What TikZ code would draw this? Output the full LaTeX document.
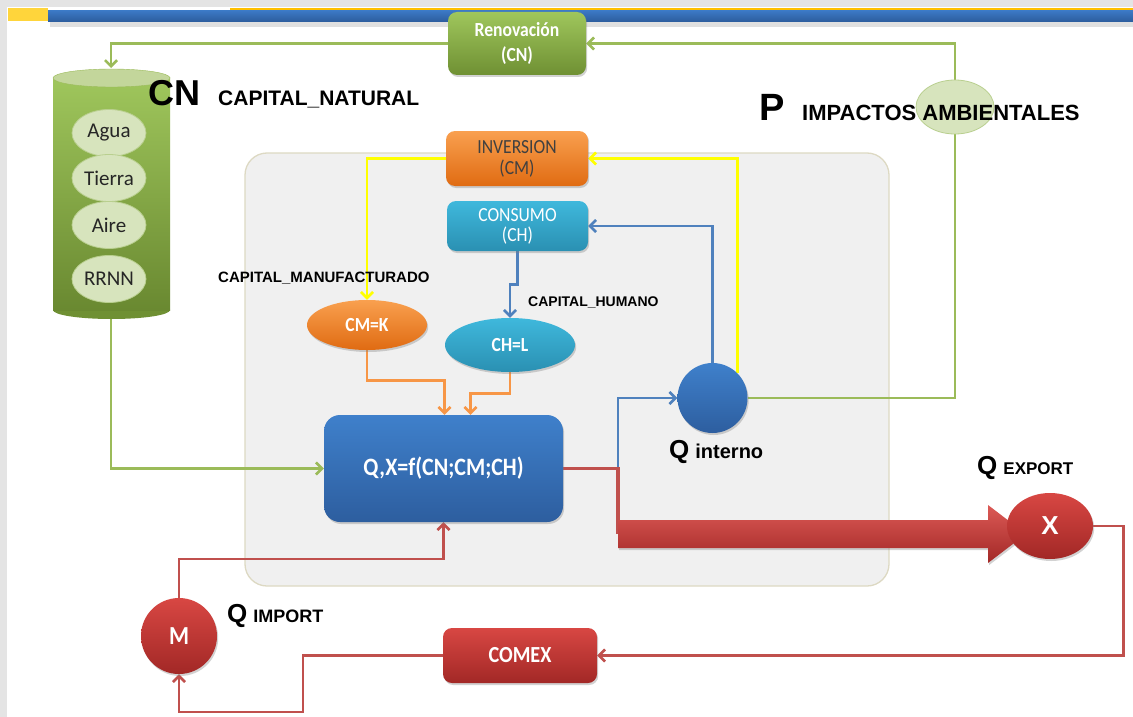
\documentclass[tikz,border=0pt]{standalone}
\usepackage{fontspec}
\setmainfont{Carlito}
\newfontfamily\arial{Liberation Sans}
\newfontfamily\boxfont[FakeStretch=0.88]{Carlito}
\usetikzlibrary{arrows.meta,shadows,shapes.geometric,calc}
\pgfdeclarelayer{bg}
\pgfdeclarelayer{conn}
\pgfsetlayers{bg,conn,main}
\definecolor{gline}{HTML}{9BBB59}
\definecolor{gtop}{HTML}{9FC65C}
\definecolor{gbot}{HTML}{6F9033}
\definecolor{cyltopc}{HTML}{C3D69B}
\definecolor{resfill}{HTML}{D7E4BD}
\definecolor{resedge}{HTML}{B9CF8F}
\definecolor{otop}{HTML}{F9A04F}
\definecolor{obot}{HTML}{E06B12}
\definecolor{oline}{HTML}{F79646}
\definecolor{ttop}{HTML}{3FB8DC}
\definecolor{tbot}{HTML}{2A90B2}
\definecolor{btop}{HTML}{3F80CB}
\definecolor{bbot}{HTML}{2D5E9F}
\definecolor{bline}{HTML}{4F81BD}
\definecolor{rtop}{HTML}{D84743}
\definecolor{rbot}{HTML}{A22826}
\definecolor{rline}{HTML}{C0504D}
\definecolor{yline}{HTML}{FFFF00}
\definecolor{panelfill}{HTML}{F0F0F0}
\definecolor{paneledge}{HTML}{DDD9C3}
\definecolor{txtdark}{HTML}{404040}
\definecolor{framegray}{HTML}{E4E4E4}
\definecolor{barYellow}{HTML}{FFD53B}
\definecolor{barOrange}{HTML}{FFC000}
\definecolor{bartop}{HTML}{3B78C4}
\definecolor{barbot}{HTML}{2C5C9C}
\tikzset{
  conn/.style={line width=2.6pt},
  gconn/.style={conn, draw=gline},
  yconn/.style={conn, draw=yline},
  bconn/.style={conn, draw=bline},
  oconn/.style={conn, draw=oline},
  rconn/.style={conn, draw=rline},
  tip/.style={-{Straight Barb[length=6pt,width=12pt]}},
  shd/.style={drop shadow={opacity=0.35,shadow xshift=1.2pt,shadow yshift=-2pt}},
  box/.style={rounded corners=9pt, shd, align=center, inner sep=0pt},
  greenbox/.style={box, top color=gtop, bottom color=gbot, text=white, font=\boxfont\bfseries\fontsize{20}{25}\selectfont},
  orangebox/.style={box, top color=otop, bottom color=obot, text=txtdark, font=\boxfont\fontsize{20}{21}\selectfont},
  tealbox/.style={box, top color=ttop, bottom color=tbot, text=white, font=\boxfont\fontsize{20}{20}\selectfont},
  blueqbox/.style={box, rounded corners=16pt, top color=btop, bottom color=bbot, text=white, font=\boxfont\bfseries\fontsize{25}{25}\selectfont},
  redbox/.style={box, top color=rtop, bottom color=rbot, text=white, font=\boxfont\bfseries\fontsize{23}{23}\selectfont},
  ograd/.style={shd, top color=otop, bottom color=obot, text=white, font=\boxfont\bfseries\fontsize{20}{20}\selectfont, inner sep=0pt},
  tgrad/.style={shd, top color=ttop, bottom color=tbot, text=white, font=\boxfont\bfseries\fontsize{20}{20}\selectfont, inner sep=0pt},
  bgrad/.style={shd, top color=btop, bottom color=bbot},
  rgrad/.style={shd, top color=rtop, bottom color=rbot, text=white, inner sep=0pt},
  res/.style={ellipse, fill=resfill, draw=resedge, line width=0.8pt, minimum width=74pt, minimum height=47pt, inner sep=0pt, text=black!85, font=\fontsize{21}{21}\selectfont},
  lbl/.style={inner sep=0pt, text=black, font=\arial\bfseries, anchor=base west},
}
\begin{document}
\begin{tikzpicture}[x=1pt,y=-1pt]
\useasboundingbox (0,0) rectangle (1133,717);
\begin{pgfonlayer}{bg}
  \fill[white] (0,0) rectangle (1133,717);
  \fill[framegray] (0,0) rectangle (1133,7);
  \fill[framegray] (0,0) rectangle (7,717);
  \fill[barYellow] (8,8) rectangle (48,21);
  \fill[barOrange] (230,8) rectangle (1133,11);
  \fill[black, opacity=0.12] (50,22) rectangle (1133,27);
  \shade[top color=bartop, bottom color=barbot] (48,11) rectangle (1133,22);
  \draw[paneledge, fill=panelfill, line width=1.3pt, rounded corners=22pt] (245,153) rectangle (889,586);
\end{pgfonlayer}

% cylinder (capital natural)
\fill[gbot] (111.5,310) ellipse[x radius=58.5, y radius=9];
\shade[top color=gtop, bottom color=gbot!95!black] (53,78) rectangle (170,310);
\fill[cyltopc, draw=gline] (111.5,78) ellipse[x radius=58.5, y radius=9];

\node[res] (agua) at (109,133) {Agua};
\node[res] (tierra) at (109,178) {Tierra};
\node[res] (aire) at (109,225) {Aire};
\node[res] (rrnn) at (109,279) {RRNN};
\coordinate (cyltop) at (111,68);
\coordinate (cylbot) at (111,318);

% P ellipse
\node[ellipse, fill=resfill, draw=resedge, line width=0.8pt, minimum width=78pt, minimum height=54pt] (P) at (955,107) {};

% boxes
\node[greenbox, minimum width=138pt, minimum height=63pt] (reno) at (517,43.5) {Renovación\\(CN)};
\node[orangebox, minimum width=142pt, minimum height=55pt] (inv) at (517,158.5) {INVERSION\\(CM)};
\node[tealbox, minimum width=141pt, minimum height=50pt] (cons) at (517.5,226) {CONSUMO\\(CH)};
\node[blueqbox, minimum width=239pt, minimum height=107pt] (qbox) at (443.5,468.5) {Q,X=f(CN;CM;CH)};
\node[redbox, minimum width=154pt, minimum height=55pt] (comex) at (520,655.5) {COMEX};
\node[ellipse, ograd, minimum width=120pt, minimum height=50pt] (cmk) at (367,325) {CM=K};
\node[ellipse, tgrad, minimum width=130pt, minimum height=54pt] (chl) at (510,345) {CH=L};
\node[circle, bgrad, minimum size=70pt] (qint) at (712.5,398) {};
\node[ellipse, rgrad, minimum width=86pt, minimum height=66pt, font=\arial\bfseries\fontsize{26}{26}\selectfont] (X) at (1050,526) {X};
\node[circle, rgrad, minimum size=76pt, font=\boxfont\bfseries\fontsize{26}{26}\selectfont] (M) at (179,636) {M};

% labels
\node[lbl] (cnbig) at (148,105) {\fontsize{36}{36}\selectfont CN};
\node[lbl] (cnname) at (218,105) {\fontsize{21}{21}\selectfont CAPITAL\_NATURAL};
\node[lbl] (pbig) at (759,121) {\fontsize{38}{38}\selectfont P};
\node[lbl] (pname) at (802,120) {\fontsize{22}{22}\selectfont IMPACTOS AMBIENTALES};
\node[lbl] (cmlbl) at (218,282) {\fontsize{15}{15}\selectfont CAPITAL\_MANUFACTURADO};
\node[lbl] (chlbl) at (528,306) {\fontsize{14}{14}\selectfont CAPITAL\_HUMANO};
\node[lbl] (qintlbl) at (669,458) {{\fontsize{26}{26}\selectfont Q}\hspace{6pt}{\fontsize{20}{20}\selectfont interno}};
\node[lbl] (qexplbl) at (977,474) {{\fontsize{26}{26}\selectfont Q}\hspace{6pt}{\fontsize{17}{17}\selectfont EXPORT}};
\node[lbl] (qimplbl) at (227,622) {{\fontsize{26}{26}\selectfont Q}\hspace{6pt}{\fontsize{18}{18}\selectfont IMPORT}};

\coordinate (bigstart) at (618,534);
\coordinate (bigtip) at (1026,534);
\coordinate (bsplit) at (618,467);
\coordinate (botcorner) at (303,712);

\begin{pgfonlayer}{conn}
  % green
  \draw[gconn, tip] (reno.west) -| (cyltop);
  \draw[gconn, tip] (P.north) |- (reno.east);
  \draw[gconn] (qint.east) -| (P.south);
  \draw[gconn, tip] (cylbot) |- (qbox.west);
  % yellow
  \draw[yconn, tip] (inv.west) -| (cmk.north);
  \draw[yconn, tip] (qint.45) |- (inv.east);
  % blue
  \draw[bconn, tip] (qint.north) |- (cons.east);
  \draw[bconn, tip] (cons.south) -- ++(0,33) -| (chl.north);
  \draw[bconn, tip] (bsplit) |- (qint.west);
  % orange
  \draw[oconn, tip] (cmk.south) -- ++(0,30) -| ([xshift=1pt]qbox.north);
  \draw[oconn, tip] (chl.south) -- ++(0,21) -| ([xshift=27pt]qbox.north);
  % red
  \draw[rconn, line width=3.5pt] (qbox.east) -| (bigstart);
  \shade[top color=rtop!90!white, bottom color=rbot, shd]
    ($(bigstart)+(0,-14)$) -- ($(bigtip)+(-38,-14)$) -- ($(bigtip)+(-38,-29)$) -- (bigtip)
    -- ($(bigtip)+(-38,29)$) -- ($(bigtip)+(-38,14)$) -- ($(bigstart)+(0,14)$) -- cycle;
  \draw[rconn, tip] (X.east) -- ++(30,0) |- (comex.east);
  \draw[rconn, tip] (comex.west) -| (botcorner) -| (M.south);
  \draw[rconn, tip] (M.north) -- ++(0,-39) -| (qbox.south);
\end{pgfonlayer}
\end{tikzpicture}
\end{document}
